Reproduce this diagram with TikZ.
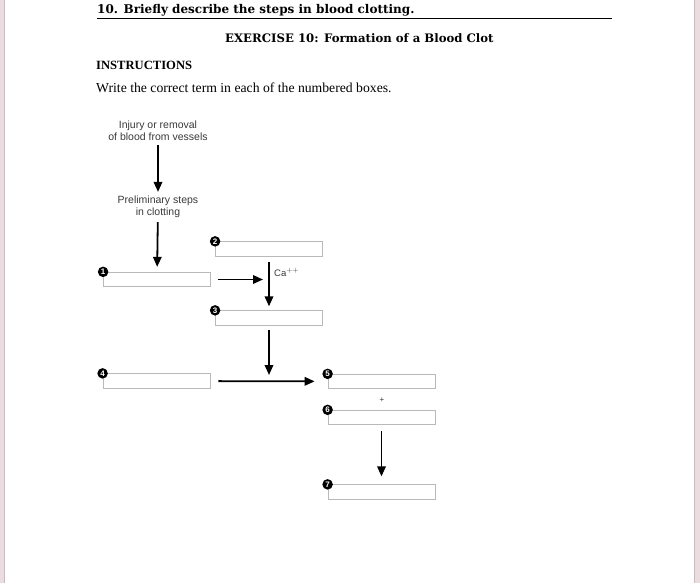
\documentclass[tikz,border=0pt]{standalone}
\usepackage{fontspec}
\setmainfont{Liberation Serif}
\newfontfamily\labelfont{Liberation Sans}
\newfontfamily\headfont{DejaVu Serif}
\usetikzlibrary{arrows.meta,positioning}

\definecolor{edgepink}{HTML}{EADCDF}
\definecolor{edgeline}{HTML}{C9BDC1}
\definecolor{labelgray}{HTML}{3A3A3A}

\begin{document}
\begin{tikzpicture}[x=1pt, y=-1pt,
  blank/.style = {draw=gray!55, line width=0.8pt, minimum width=107pt,
    minimum height=14.5pt, inner sep=0pt},
  bullet/.style = {circle, fill=black, text=white, inner sep=0pt,
    minimum size=10.5pt, font=\labelfont\bfseries\fontsize{8}{8}\selectfont},
  step text/.style = {align=center, text=labelgray, inner sep=4pt,
    font=\labelfont\fontsize{10.5}{12}\selectfont},
  arr/.style = {-{Triangle[length=10pt,width=8.5pt]}, line width=1.8pt}]
  % page and its tinted edges
  \useasboundingbox (0,0) rectangle (700,583);
  \fill[edgepink] (0,0) rectangle (700,583);
  \fill[white] (5,0) rectangle (694,583);
  \draw[edgeline, line width=1pt] (4.5,0) -- (4.5,583);
  \draw[edgeline, line width=1pt] (694.5,0) -- (694.5,583);

  % heading
  \node[anchor=base west, inner sep=0pt, font=\headfont\bfseries\fontsize{12}{12}\selectfont]
    (question) at (97,13.5) {10. Briefly describe the steps in blood clotting.};
  \draw[line width=1.5pt] (97,18.5) -- (612,18.5);
  \node[anchor=base west, inner sep=0pt, font=\headfont\bfseries\fontsize{11.7}{12}\selectfont]
    (exercise) at (225,42.7) {EXERCISE 10: Formation of a Blood Clot};
  \node[anchor=base west, inner sep=0pt, font=\bfseries\fontsize{12.6}{12}\selectfont]
    (instr) at (96,70) {INSTRUCTIONS};
  \node[anchor=base west, inner sep=0pt, font=\fontsize{13.7}{12}\selectfont]
    (write) at (96,92.5) {Write the correct term in each of the numbered boxes.};

  % flow chart
  \node[step text] (injury) at (158,131) {Injury or removal\\of blood from vessels};
  \node[step text] (prelim) at (158,207) {Preliminary steps\\in clotting};

  \node[blank] (b1) at (157,279.5) {};
  \node[blank] (b2) at (269,249) {};
  \node[blank] (b3) at (269,318) {};
  \node[blank] (b4) at (156.5,381) {};
  \node[blank] (b5) at (381.5,381.5) {};
  \node[blank] (b6) at (381.5,417.5) {};
  \node[blank] (b7) at (381.5,492) {};
  \foreach \i in {1,...,7}
    \node[bullet] (n\i) at (b\i.north west) {\i};

  \node[anchor=base west, inner sep=0pt, text=labelgray,
    font=\labelfont\fontsize{9.5}{9.5}\selectfont] (ca) at (274,276) {Ca$^{++}$};
  \node[text=labelgray, font=\labelfont\fontsize{8}{8}\selectfont] (plus) at (382,400) {+};

  \draw[arr] (injury) -- (prelim);
  \draw[arr, shorten >=5pt] (prelim) -- (b1);
  \draw[arr, shorten <=7pt, shorten >=6pt] (b1) -- (b1 -| b2);
  \draw[arr, shorten <=5pt, shorten >=4pt] (b2) -- (b3);
  \draw[arr, shorten <=4pt, shorten >=6pt] (b3) -- (b3 |- b4);
  \draw[arr, shorten <=8pt, shorten >=13pt] (b4) -- (b5);
  \draw[arr, shorten <=6pt, shorten >=8pt] (b6) -- (b7);
\end{tikzpicture}
\end{document}
